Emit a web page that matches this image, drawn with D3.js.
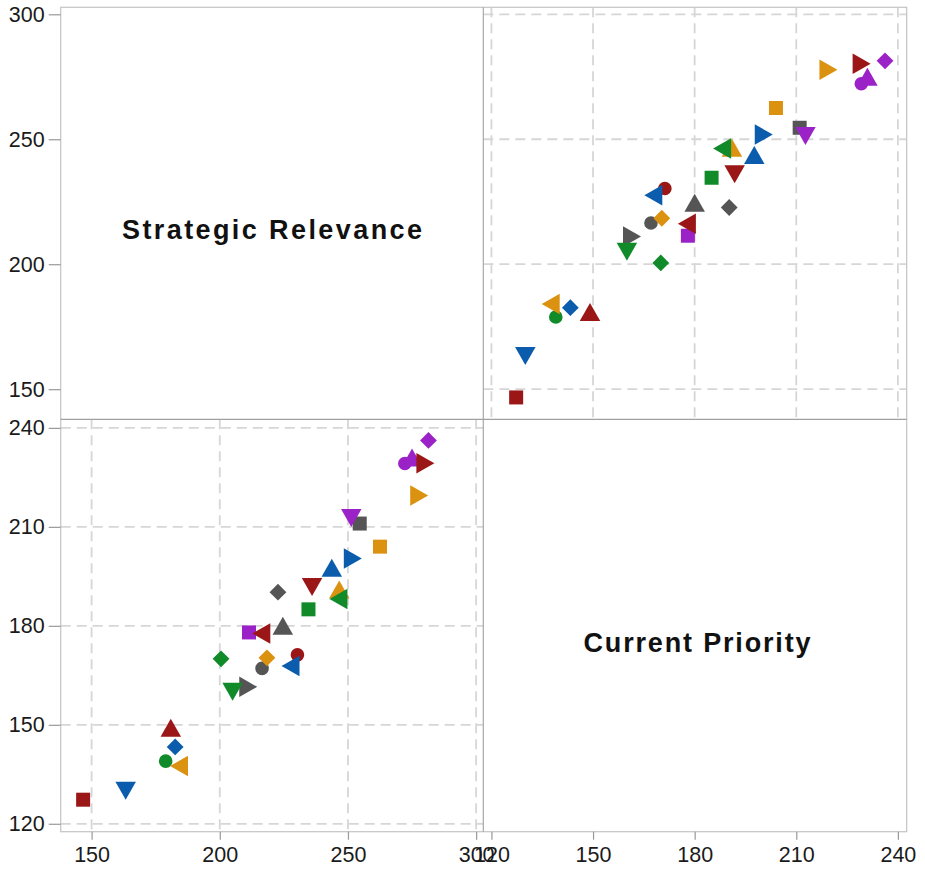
<!DOCTYPE html>
<html>
<head>
<meta charset="utf-8">
<script src="https://cdn.jsdelivr.net/npm/d3@7"></script>
<style>
  html, body { margin: 0; padding: 0; background: #fff; }
  svg { display: block; }
  text { font-family: "Liberation Sans", Arial, Helvetica, sans-serif; }
</style>
</head>
<body>
<svg id="chart" width="925" height="869"></svg>
<script>
// ---------------- data ----------------
const variableNames = ["Strategic Relevance", "Current Priority"];
const currentPriority = [127.3, 130.0, 139.0, 137.5, 143.3, 149.1, 170.0, 161.5, 160.0, 178.0,
  177.7, 167.1, 170.3, 190.2, 180.0, 171.2, 167.8, 185.0, 191.8, 197.6,
  191.0, 188.1, 200.4, 211.0, 212.7, 204.0, 219.5, 229.2, 231.0, 229.3, 236.2];
const strategicRelevance = [146.7, 163.3, 178.9, 184.1, 182.6, 180.9, 200.5, 211.1, 205.0, 211.4,
  216.2, 216.5, 218.4, 222.7, 224.6, 230.3, 227.6, 234.6, 236.0, 243.7,
  246.6, 246.3, 251.9, 254.6, 251.3, 262.5, 277.8, 272.2, 275.0, 280.2, 281.4];
const colorGroup = ["darkred", "blue", "green", "orange", "blue", "darkred", "green", "gray", "green", "purple",
  "darkred", "gray", "orange", "gray", "gray", "darkred", "blue", "green", "darkred", "blue",
  "orange", "green", "blue", "gray", "purple", "orange", "orange", "purple", "purple", "darkred", "purple"];
const shapeGroup = ["square", "triDown", "circle", "triLeft", "diamond", "triUp", "diamond", "triRight", "triDown", "square",
  "triLeft", "circle", "diamond", "diamond", "triUp", "circle", "triLeft", "square", "triDown", "triUp",
  "triUp", "triLeft", "triRight", "square", "triDown", "square", "triRight", "circle", "triUp", "triRight", "diamond"];
const srTicks = [150, 200, 250, 300];
const cpTicks = [120, 150, 180, 210, 240];

// ---------------- styles ----------------
const palette = {
  blue: "#0b5cac", darkred: "#9b1616", green: "#118a2a",
  orange: "#dc9211", purple: "#9b22c6", gray: "#555555"
};

function shapePath(shape) {
  const w = 20.5, h = 18;
  switch (shape) {
    case "square": { const s = 7; return `M${-s},${-s}H${s}V${s}H${-s}Z`; }
    case "circle": { const r = 6.8; return `M${r},0A${r},${r} 0 1,1 ${-r},0A${r},${r} 0 1,1 ${r},0Z`; }
    case "diamond": { const d = 8.4; return `M0,${-d}L${d},0L0,${d}L${-d},0Z`; }
    case "triUp": return `M0,${-h/2}L${w/2},${h/2}L${-w/2},${h/2}Z`;
    case "triDown": return `M0,${h/2}L${w/2},${-h/2}L${-w/2},${-h/2}Z`;
    case "triLeft": return `M${-h/2},0L${h/2},${-w/2}L${h/2},${w/2}Z`;
    case "triRight": return `M${h/2},0L${-h/2},${-w/2}L${-h/2},${w/2}Z`;
  }
}

// ---------------- layout ----------------
const xEdges = [60.7, 483.3, 906.7];
const yEdges = [7.3, 419.3, 831.7];
const srDomain = [137.95, 302.8];
const cpDomain = [117.6, 242.6];

const svg = d3.select("#chart");

const srX = d3.scaleLinear().domain(srDomain).range([xEdges[0], xEdges[1]]);
const cpX = d3.scaleLinear().domain(cpDomain).range([xEdges[1], xEdges[2]]);
const srY = d3.scaleLinear().domain(srDomain).range([yEdges[1], yEdges[0]]);
const cpY = d3.scaleLinear().domain(cpDomain).range([yEdges[2], yEdges[1]]);

const gridColor = "#d6d6d6";
const gridDash = "10,6";

function drawGrid(xScale, xTicks, yScale, yTicks, x0, x1, y0, y1) {
  const g = svg.append("g");
  g.selectAll("line.v").data(xTicks).join("line")
    .attr("x1", d => xScale(d)).attr("x2", d => xScale(d))
    .attr("y1", y0).attr("y2", y1)
    .attr("stroke", gridColor).attr("stroke-width", 1.8).attr("stroke-dasharray", gridDash);
  g.selectAll("line.h").data(yTicks).join("line")
    .attr("x1", x0).attr("x2", x1)
    .attr("y1", d => yScale(d)).attr("y2", d => yScale(d))
    .attr("stroke", gridColor).attr("stroke-width", 1.8).attr("stroke-dasharray", gridDash);
}

drawGrid(cpX, cpTicks, srY, srTicks, xEdges[1], xEdges[2], yEdges[0], yEdges[1]);
drawGrid(srX, srTicks, cpY, cpTicks, xEdges[0], xEdges[1], yEdges[1], yEdges[2]);

// frame
svg.append("rect")
  .attr("x", xEdges[0]).attr("y", yEdges[0])
  .attr("width", xEdges[2] - xEdges[0]).attr("height", yEdges[2] - yEdges[0])
  .attr("fill", "none").attr("stroke", "#c4c4c4").attr("stroke-width", 1.2);
svg.append("line").attr("x1", xEdges[1]).attr("x2", xEdges[1]).attr("y1", yEdges[0]).attr("y2", yEdges[2])
  .attr("stroke", "#a8a8a8").attr("stroke-width", 1.2);
svg.append("line").attr("x1", xEdges[0]).attr("x2", xEdges[2]).attr("y1", yEdges[1]).attr("y2", yEdges[1])
  .attr("stroke", "#a0a0a0").attr("stroke-width", 1.2);

// diagonal labels
const labelWidths = [300, 227];
[0, 1].forEach(i => {
  const cx = (xEdges[i] + xEdges[i + 1]) / 2;
  const cy = (yEdges[i] + yEdges[i + 1]) / 2;
  svg.append("text")
    .attr("x", cx + (i === 1 ? 2 : 0)).attr("y", cy + 26)
    .attr("text-anchor", "middle")
    .attr("font-size", 27).attr("font-weight", "bold").attr("fill", "#111")
    .attr("textLength", labelWidths[i]).attr("lengthAdjust", "spacing")
    .text(variableNames[i]);
});

// points
const idx = d3.range(currentPriority.length);
function drawPoints(xVals, xScale, yVals, yScale) {
  svg.append("g").selectAll("path").data(idx).join("path")
    .attr("d", i => shapePath(shapeGroup[i]))
    .attr("transform", i => `translate(${xScale(xVals[i])},${yScale(yVals[i])})`)
    .attr("fill", i => palette[colorGroup[i]]);
}
drawPoints(currentPriority, cpX, strategicRelevance, srY);
drawPoints(strategicRelevance, srX, currentPriority, cpY);

// axes
function styleAxis(g) {
  g.select(".domain").remove();
  g.selectAll(".tick line").attr("stroke", "#999").attr("stroke-width", 1.2);
  g.selectAll(".tick text").attr("font-size", 21.5).attr("fill", "#1a1a1a")
    .attr("font-family", "'Liberation Sans', Arial, sans-serif");
}
svg.append("g").attr("transform", `translate(0,${yEdges[2]})`)
  .call(d3.axisBottom(srX).tickValues(srTicks).tickSize(8).tickPadding(7).tickFormat(d3.format("d")))
  .call(styleAxis);
svg.append("g").attr("transform", `translate(0,${yEdges[2]})`)
  .call(d3.axisBottom(cpX).tickValues(cpTicks).tickSize(8).tickPadding(7).tickFormat(d3.format("d")))
  .call(styleAxis);
svg.append("g").attr("transform", `translate(${xEdges[0]},0)`)
  .call(d3.axisLeft(srY).tickValues(srTicks).tickSize(12).tickPadding(4).tickFormat(d3.format("d")))
  .call(styleAxis);
svg.append("g").attr("transform", `translate(${xEdges[0]},0)`)
  .call(d3.axisLeft(cpY).tickValues(cpTicks).tickSize(12).tickPadding(4).tickFormat(d3.format("d")))
  .call(styleAxis);
</script>
</body>
</html>
